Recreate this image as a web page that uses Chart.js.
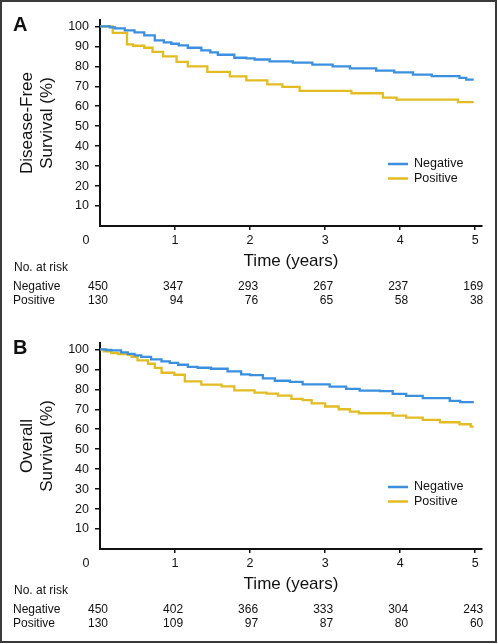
<!DOCTYPE html>
<html>
<head>
<meta charset="utf-8">
<script src="https://cdn.jsdelivr.net/npm/chart.js@4.4.0/dist/chart.umd.min.js"></script>
<style>
  html, body { margin: 0; padding: 0; background: #fff; overflow: hidden; }
  #page { position: relative; width: 498px; height: 644px; }
  .panel { position: absolute; left: 0; width: 498px; height: 322px; }
  #frame { position: absolute; left: 0; top: 0; width: 497px; height: 643px; box-sizing: border-box; border: 2px solid #3a3a3a; pointer-events: none; }
</style>
</head>
<body>
<div id="page">
  <div class="panel" style="top:0"><canvas id="dfsChart" width="498" height="322"></canvas></div>
  <div class="panel" style="top:323px"><canvas id="osChart" width="498" height="322"></canvas></div>
  <div id="frame"></div>
</div>
<script>
// Panel A - disease-free survival (years, %)
const dfsNegTime = [0, 0.13, 0.2, 0.33, 0.46, 0.59, 0.73, 0.85, 0.95, 1.05, 1.17, 1.35, 1.47, 1.57, 1.79, 1.95, 2.06, 2.26, 2.57, 2.83, 3.1, 3.33, 3.68, 3.92, 4.17, 4.42, 4.79, 4.88, 4.98];
const dfsNegSurv = [100, 99.5, 99, 98, 97, 95.5, 93, 92, 91.3, 90.5, 89.3, 88, 87, 85.8, 84.3, 84, 83.4, 82.5, 81.8, 80.8, 80, 79, 77.8, 77, 75.8, 75.1, 74.2, 73.3, 73.3];
const dfsPosTime = [0, 0.17, 0.36, 0.44, 0.59, 0.7, 0.84, 1.02, 1.17, 1.43, 1.73, 1.95, 2.23, 2.43, 2.66, 3.35, 3.77, 3.95, 4.77, 4.98];
const dfsPosSurv = [100, 96.7, 91, 90.3, 89.3, 87.2, 85, 82.2, 80, 77.2, 75, 73, 71, 69.7, 67.7, 66.5, 64.3, 63.3, 62.1, 62.1];

// Panel B - overall survival (years, %)
const osNegTime = [0, 0.08, 0.15, 0.28, 0.37, 0.46, 0.55, 0.68, 0.82, 0.93, 1.04, 1.17, 1.3, 1.48, 1.7, 1.88, 2.0, 2.17, 2.33, 2.53, 2.7, 3.06, 3.28, 3.46, 3.73, 3.9, 4.08, 4.3, 4.66, 4.8, 4.98];
const osNegSurv = [100, 99.7, 99.5, 98.5, 97.8, 97, 96.2, 95, 94, 93.2, 92.3, 91.2, 90.8, 90.3, 89, 87.5, 87.1, 85.5, 84.3, 83.7, 82.5, 81.3, 80.2, 79.3, 79.1, 77.7, 76.7, 75.6, 74.2, 73.6, 73.6];
const osPosTime = [0, 0.05, 0.15, 0.24, 0.37, 0.42, 0.5, 0.64, 0.73, 0.82, 0.99, 1.13, 1.35, 1.62, 1.79, 2.06, 2.22, 2.37, 2.55, 2.7, 2.82, 3.0, 3.18, 3.33, 3.45, 3.9, 4.08, 4.3, 4.53, 4.79, 4.94, 4.98];
const osPosSurv = [100, 99, 98.2, 97.7, 97.3, 96.2, 94.5, 92.8, 90.7, 88.3, 87.3, 84, 82.3, 81.5, 79.5, 78.3, 77.8, 76.8, 75.2, 74.6, 73, 71.4, 70, 68.8, 68, 66.8, 65.8, 64.7, 63.5, 62.5, 61.3, 61.3];

// Numbers at risk
const riskTimes = [0, 1, 2, 3, 4, 5];
const dfsRiskNeg = [450, 347, 293, 267, 237, 169];
const dfsRiskPos = [130, 94, 76, 65, 58, 38];
const osRiskNeg = [450, 402, 366, 333, 304, 243];
const osRiskPos = [130, 109, 97, 87, 80, 60];

const groupLabels = ["Negative", "Positive"];
const groupColors = ["#3a8fdf", "#e2bc22"];

const FONT = '"Liberation Sans", Arial, Helvetica, sans-serif';
Chart.defaults.font.family = FONT;
Chart.defaults.color = "#111";

function toPoints(times, surv) {
  return times.map((t, i) => ({ x: t, y: surv[i] }));
}

// draws panel letter, corner zero, legend and the risk table
const riskTablePlugin = {
  id: "riskTable",
  afterDraw(chart, args, opts) {
    const { ctx, chartArea, scales } = chart;
    const xs = scales.x;
    const base = chartArea.bottom;
    ctx.save();
    ctx.fillStyle = "#111";

    ctx.font = "bold 20px " + FONT;
    ctx.textAlign = "left";
    ctx.textBaseline = "alphabetic";
    ctx.fillText(opts.letter, 13, 31);

    ctx.font = "12.5px " + FONT;
    ctx.textAlign = "center";
    ctx.textBaseline = "middle";
    ctx.fillText("0", xs.getPixelForValue(0) - 14, base + 15);

    // legend
    ctx.textAlign = "left";
    chart.data.datasets.forEach((ds, i) => {
      const ly = base - 62 + i * 14.5;
      ctx.strokeStyle = ds.borderColor;
      ctx.lineWidth = 2.5;
      ctx.beginPath();
      ctx.moveTo(chartArea.right - 94, ly);
      ctx.lineTo(chartArea.right - 74, ly);
      ctx.stroke();
      ctx.fillText(ds.label, chartArea.right - 68, ly);
    });

    // no. at risk
    ctx.font = "12px " + FONT;
    ctx.fillText("No. at risk", 14, base + 42);
    const rows = [opts.negative, opts.positive];
    rows.forEach((vals, r) => {
      const ry = base + 60.5 + r * 14;
      ctx.textAlign = "left";
      ctx.fillText(groupLabels[r], 13, ry);
      ctx.textAlign = "right";
      vals.forEach((v, i) => {
        ctx.fillText(String(v), xs.getPixelForValue(riskTimes[i]) + 8, ry);
      });
    });
    ctx.restore();
  },
};

function makeChart(id, letter, yTitle, neg, pos, riskNeg, riskPos) {
  const ctx = document.getElementById(id).getContext("2d");
  return new Chart(ctx, {
    type: "line",
    data: {
      datasets: [
        { label: groupLabels[0], data: neg, borderColor: groupColors[0], borderWidth: 2.3, stepped: "before", pointRadius: 0, fill: false },
        { label: groupLabels[1], data: pos, borderColor: groupColors[1], borderWidth: 2.3, stepped: "before", pointRadius: 0, fill: false },
      ],
    },
    options: {
      responsive: false,
      animation: false,
      layout: { padding: { top: 20, right: 16, left: 0, bottom: 0 } },
      scales: {
        x: {
          type: "linear",
          min: 0,
          max: 5.09,
          afterFit: (s) => { s.height = 96; },
          border: { color: "#111", width: 2 },
          grid: {
            drawOnChartArea: false,
            tickLength: 4,
            lineWidth: 1.5,
            color: (c) => (c.tick && c.tick.value === 0 ? "rgba(0,0,0,0)" : "#111"),
          },
          ticks: {
            stepSize: 1,
            includeBounds: false,
            padding: 3,
            font: { size: 12.5 },
            callback: (v) => (v === 0 ? "" : v),
          },
          title: { display: true, text: "Time (years)", font: { size: 17 }, padding: { top: 0, bottom: 50 } },
        },
        y: {
          min: 0,
          max: 103.2,
          afterFit: (s) => { s.width = 100; },
          border: { color: "#111", width: 2 },
          grid: {
            drawOnChartArea: false,
            tickLength: 5,
            lineWidth: 1.5,
            color: (c) => (c.tick && c.tick.value === 0 ? "rgba(0,0,0,0)" : "#111"),
          },
          ticks: {
            stepSize: 10,
            includeBounds: false,
            padding: 6,
            font: { size: 12.5 },
            callback: (v) => (v === 0 ? "" : v),
          },
          title: { display: true, text: yTitle, font: { size: 17 }, padding: { top: 17, bottom: 0 } },
        },
      },
      plugins: {
        legend: { display: false },
        tooltip: { enabled: false },
        riskTable: { letter: letter, negative: riskNeg, positive: riskPos },
      },
    },
    plugins: [riskTablePlugin],
  });
}

makeChart("dfsChart", "A", ["Disease-Free", "Survival (%)"],
  toPoints(dfsNegTime, dfsNegSurv), toPoints(dfsPosTime, dfsPosSurv), dfsRiskNeg, dfsRiskPos);
makeChart("osChart", "B", ["Overall", "Survival (%)"],
  toPoints(osNegTime, osNegSurv), toPoints(osPosTime, osPosSurv), osRiskNeg, osRiskPos);
</script>
</body>
</html>
